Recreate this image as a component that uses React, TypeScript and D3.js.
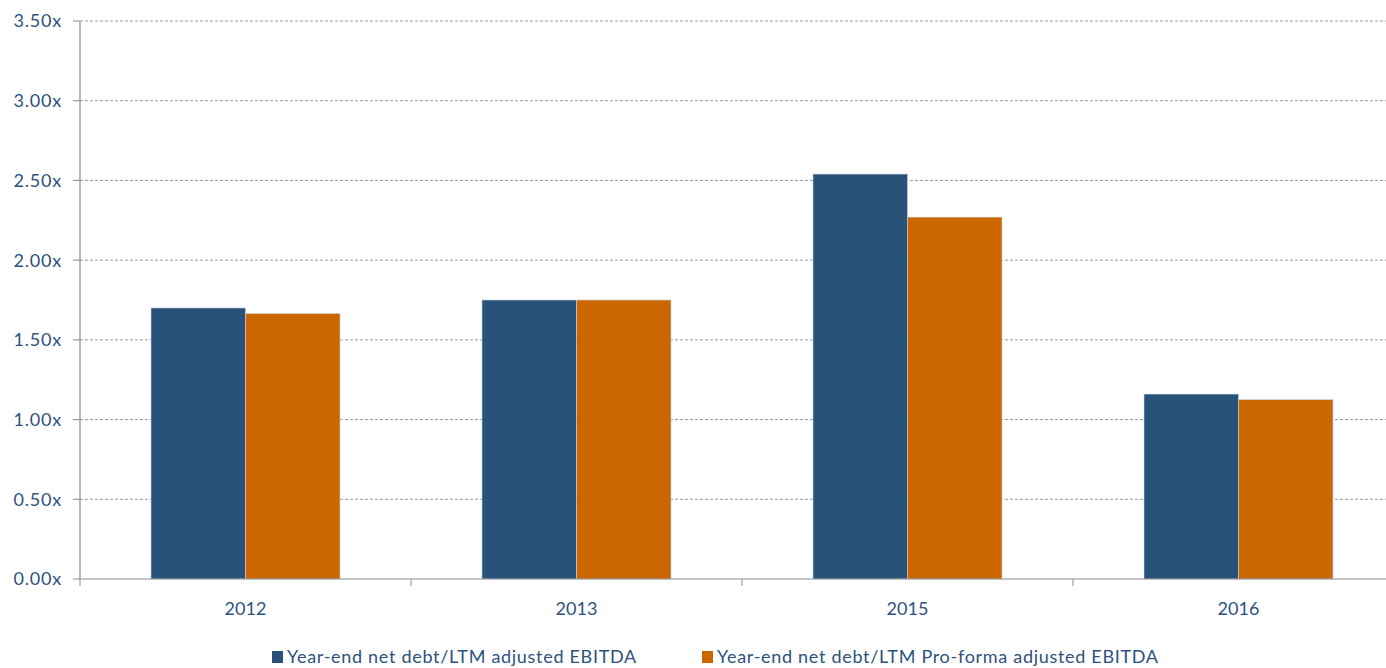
import React from "react";
import * as d3 from "d3";

const categories = ["2012", "2013", "2015", "2016"];
const seriesNames = [
  "Year-end net debt/LTM adjusted EBITDA",
  "Year-end net debt/LTM Pro-forma adjusted EBITDA",
];
const seriesA = [1.7, 1.75, 2.54, 1.16];
const seriesB = [1.665, 1.75, 2.27, 1.125];
const yTicks = [0, 0.5, 1, 1.5, 2, 2.5, 3, 3.5];
const colors = ["#29527A", "#CC6600"];

const W = 1386;
const H = 668;
const left = 80;
const right = 1404;
const top = 21;
const bottom = 579;
const font = "Lato, 'Open Sans', sans-serif";
const textColor = "#2E527E";

export default function App() {
  const x = d3
    .scaleBand<string>()
    .domain(categories)
    .range([left, right])
    .paddingInner(0.429)
    .paddingOuter(0.2145);
  const y = d3.scaleLinear().domain([0, 3.5]).range([bottom, top]);
  const xs = d3.scaleBand<number>().domain([0, 1]).range([0, x.bandwidth()]);
  const data = [seriesA, seriesB];
  const step = x.step();

  return (
    <div style={{ position: "fixed", left: 0, top: 0 }}>
      <svg width={W} height={H} style={{ display: "block", background: "#fff" }}>
        {yTicks.map((t) =>
          t === 0 ? null : (
            <line
              key={"g" + t}
              x1={left}
              x2={W}
              y1={y(t)}
              y2={y(t)}
              stroke="#9a9a9a"
              strokeWidth={1}
              strokeDasharray="3,2"
            />
          )
        )}
        {categories.map((c, ci) =>
          data.map((s, si) => (
            <rect
              key={c + si}
              x={(x(c) as number) + (xs(si) as number)}
              y={y(s[ci])}
              width={xs.bandwidth()}
              height={bottom - y(s[ci])}
              fill={colors[si]}
              stroke="#c9d3df"
              strokeWidth={0.6}
            />
          ))
        )}
        <line x1={left} x2={left} y1={top} y2={bottom} stroke="#8c8c8c" strokeWidth={1.2} />
        <line x1={left} x2={W} y1={bottom} y2={bottom} stroke="#8c8c8c" strokeWidth={1.2} />
        {yTicks.map((t) => (
          <g key={"t" + t}>
            <line x1={left - 7} x2={left} y1={y(t)} y2={y(t)} stroke="#8c8c8c" strokeWidth={1} />
            <text
              x={62}
              y={y(t)}
              dy="0.36em"
              textAnchor="end"
              fontFamily={font}
              fontSize={18}
              letterSpacing={0.8}
              fill={textColor}
            >
              {t.toFixed(2) + "x"}
            </text>
          </g>
        ))}
        {d3.range(categories.length + 1).map((i) => (
          <line
            key={"xt" + i}
            x1={left + i * step}
            x2={left + i * step}
            y1={bottom}
            y2={bottom + 7}
            stroke="#8c8c8c"
            strokeWidth={1}
          />
        ))}
        {categories.map((c) => (
          <text
            key={"xl" + c}
            x={(x(c) as number) + x.bandwidth() / 2}
            y={615}
            textAnchor="middle"
            fontFamily={font}
            fontSize={18}
            fill={textColor}
          >
            {c}
          </text>
        ))}
        {seriesNames.map((n, i) => {
          const lx = i === 0 ? 272 : 702;
          return (
            <g key={"lg" + i}>
              <rect x={lx} y={651} width={11} height={12} fill={colors[i]} />
              <text
                x={lx + 15}
                y={663}
                fontFamily={font}
                fontSize={18}
                letterSpacing={0.7}
                fill={textColor}
              >
                {n}
              </text>
            </g>
          );
        })}
      </svg>
    </div>
  );
}
